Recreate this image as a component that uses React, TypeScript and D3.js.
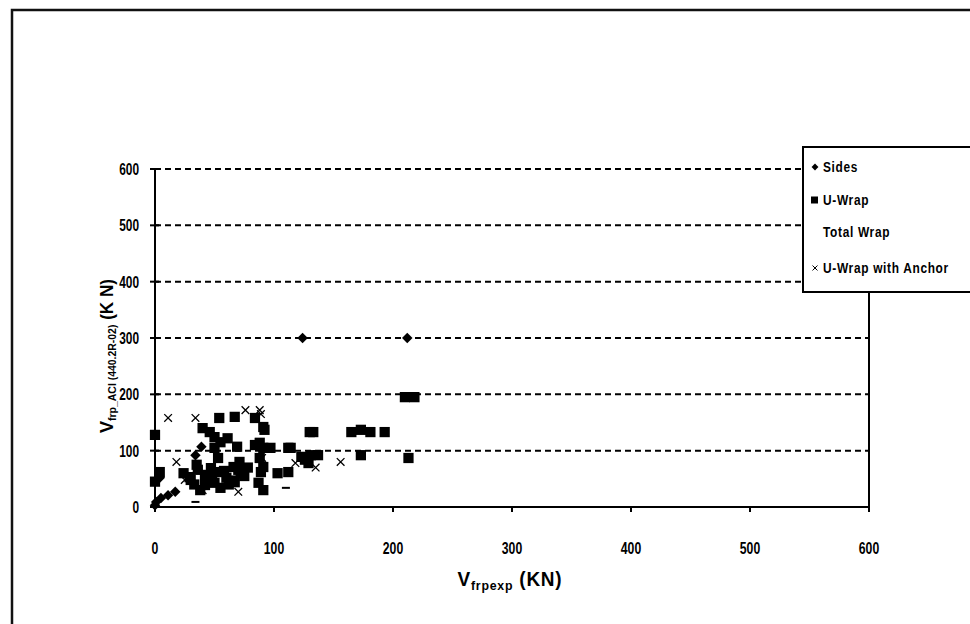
import React from "react";
import * as d3 from "d3";

const xTicks = [0, 100, 200, 300, 400, 500, 600];
const yTicks = [0, 100, 200, 300, 400, 500, 600];

const sidesX = [124, 212, 1, 5, 11, 17, 39, 4, 34, 0];
const sidesY = [300, 300, 9, 16, 21, 27, 107, 52, 92, 3];

const uwrapX = [54, 67, 84, 40, 46, 50, 55, 61, 69, 84, 91, 50, 53, 24, 29, 36, 42, 47, 55, 60, 42, 50, 55, 66, 71, 72, 67, 88, 89, 87, 210, 218, 130, 133, 165, 173, 181, 193, 91, 92, 88, 97, 112, 114, 123, 131, 137, 129, 173, 213, 103, 112, 91, 91, 0, 4, 0, 30, 38, 45, 62, 75, 78, 35, 58, 64, 33, 48, 70, 126];
const uwrapY = [158, 160, 158, 140, 133, 124, 115, 122, 107, 110, 105, 105, 87, 60, 53, 66, 57, 69, 62, 52, 39, 43, 34, 71, 80, 60, 44, 87, 62, 43, 195, 195, 133, 133, 133, 137, 133, 133, 142, 137, 114, 105, 105, 105, 89, 92, 92, 78, 92, 87, 60, 62, 71, 30, 128, 62, 45, 48, 30, 50, 40, 55, 70, 75, 64, 47, 40, 60, 66, 84];

const totalX = [110, 34];
const totalY = [34, 9];

const anchorX = [11, 34, 76, 88, 89, 18, 25, 70, 135, 118, 156, 90, 40];
const anchorY = [158, 158, 172, 172, 165, 80, 48, 27, 70, 78, 80, 87, 30];

const legendItems = ["Sides", "U-Wrap", "Total Wrap", "U-Wrap with Anchor"];

const FONT = "'Liberation Sans', Arial, sans-serif";

function CText(props: { x: number; y: number; anchor?: string; size: number; sx: number; ls?: number; children: React.ReactNode }) {
  return (
    <text
      transform={`translate(${props.x},${props.y}) scale(${props.sx},1)`}
      dy="0.35em"
      textAnchor={props.anchor || "start"}
      fontSize={props.size}
      fontWeight="bold"
      letterSpacing={props.ls || 0}
    >
      {props.children}
    </text>
  );
}

export default function App() {
  const x = d3.scaleLinear().domain([0, 600]).range([155, 869]);
  const y = d3.scaleLinear().domain([0, 600]).range([507, 169]);
  const diamond = d3.symbol().type(d3.symbolDiamond2).size(70)() as string;
  const square = d3.symbol().type(d3.symbolSquare).size(105)() as string;
  const cross = d3.symbol().type(d3.symbolX).size(40)() as string;

  const marker = (kind: string, cx: number, cy: number, key: string) => {
    if (kind === "sides") return <path key={key} d={diamond} transform={`translate(${cx},${cy})`} fill="#000" />;
    if (kind === "uwrap") return <path key={key} d={square} transform={`translate(${cx},${cy})`} fill="#000" />;
    if (kind === "anchor")
      return <path key={key} d={cross} transform={`translate(${cx},${cy})`} fill="none" stroke="#000" strokeWidth={1.3} />;
    return <line key={key} x1={cx - 4} x2={cx + 4} y1={cy} y2={cy} stroke="#000" strokeWidth={2} />;
  };

  const lx = 803, ly = 147;
  const legendY = [167, 200, 232, 268];

  return (
    <svg width={970} height={624} style={{ position: "absolute", left: 0, top: 0, background: "#fff" }} fontFamily={FONT}>
      <rect x={0} y={0} width={970} height={624} fill="#fff" />
      {/* outer frame */}
      <rect x={12} y={10} width={975} height={630} fill="none" stroke="#111" strokeWidth={2.5} />

      {/* gridlines */}
      {yTicks.filter((t) => t > 0).map((t) => (
        <line key={"g" + t} x1={x(0)} x2={x(600)} y1={y(t)} y2={y(t)} stroke="#000" strokeWidth={2} strokeDasharray="6,4" />
      ))}

      {/* right border */}
      <line x1={x(600)} x2={x(600)} y1={y(600)} y2={y(0) + 3} stroke="#000" strokeWidth={2} />

      {/* axes */}
      <line x1={x(0)} x2={x(600)} y1={y(0)} y2={y(0)} stroke="#000" strokeWidth={2} />
      <line x1={x(0)} x2={x(0)} y1={y(600)} y2={y(0) + 4} stroke="#000" strokeWidth={2} />
      {yTicks.map((t) => (
        <g key={"yt" + t}>
          <line x1={x(0) - 5} x2={x(0) + 4} y1={y(t)} y2={y(t)} stroke="#000" strokeWidth={2} />
          <CText x={139} y={y(t)} anchor="end" size={17} sx={0.7}>{t}</CText>
        </g>
      ))}
      {xTicks.map((t) => (
        <g key={"xt" + t}>
          <line x1={x(t)} x2={x(t)} y1={y(0)} y2={y(0) + 5} stroke="#000" strokeWidth={2} />
          <CText x={x(t)} y={548} anchor="middle" size={17} sx={0.72}>{t}</CText>
        </g>
      ))}

      {/* data */}
      {uwrapX.map((v, i) => marker("uwrap", x(v), y(uwrapY[i]), "u" + i))}
      {sidesX.map((v, i) => marker("sides", x(v), y(sidesY[i]), "s" + i))}
      {totalX.map((v, i) => marker("total", x(v), y(totalY[i]), "t" + i))}
      {anchorX.map((v, i) => marker("anchor", x(v), y(anchorY[i]), "a" + i))}

      {/* axis titles */}
      <text transform="translate(113,356) rotate(-90) scale(0.95,1)" textAnchor="middle" fontWeight="bold">
        <tspan fontSize={19}>V</tspan>
        <tspan fontSize={11} dy={3}>frp_ACI (440.2R-02)</tspan>
        <tspan fontSize={18} dy={-3}> (K N)</tspan>
      </text>
      <text transform="translate(510,586) scale(0.95,1)" textAnchor="middle" fontWeight="bold" letterSpacing={0.8}>
        <tspan fontSize={20}>V</tspan>
        <tspan fontSize={13} dy={4}>frpexp</tspan>
        <tspan fontSize={20} dy={-4}> (KN)</tspan>
      </text>

      {/* legend */}
      <rect x={lx} y={ly} width={200} height={145} fill="#fff" stroke="#000" strokeWidth={2} />
      {legendItems.map((name, i) => (
        <g key={"l" + i}>
          {i === 0 && <path d={d3.symbol().type(d3.symbolDiamond2).size(30)() as string} transform={`translate(815,${legendY[i]})`} fill="#000" />}
          {i === 1 && <rect x={811} y={legendY[i] - 3.5} width={7} height={7} fill="#000" />}
          {i === 3 && <path d={d3.symbol().type(d3.symbolX).size(18)() as string} transform={`translate(815,${legendY[i]})`} stroke="#000" strokeWidth={1} />}
          <CText x={823} y={legendY[i]} size={14} sx={0.85} ls={0.8}>{name}</CText>
        </g>
      ))}
    </svg>
  );
}
